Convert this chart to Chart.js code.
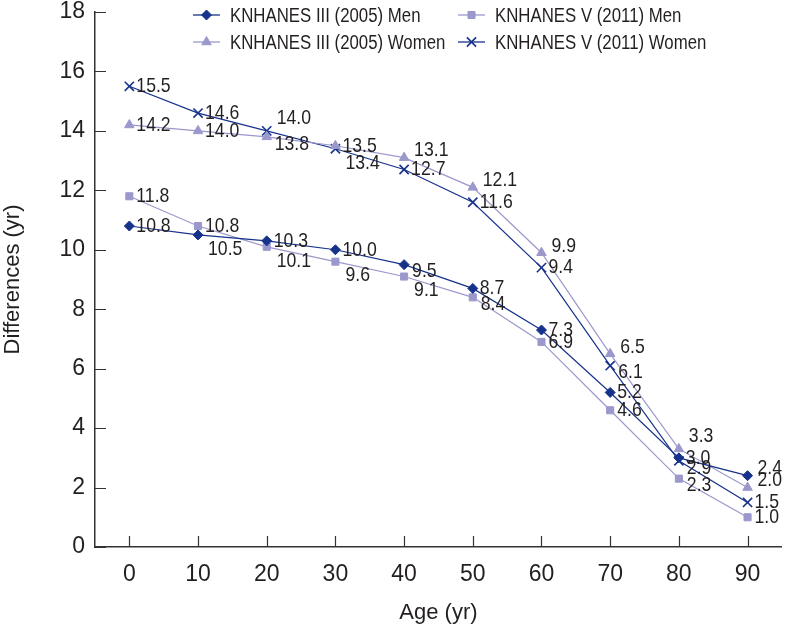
<!DOCTYPE html>
<html>
<head>
<meta charset="utf-8">
<script src="https://cdn.jsdelivr.net/npm/chart.js@4.4.1/dist/chart.umd.min.js"></script>
<style>
html,body{margin:0;padding:0;background:#fff;}
#wrap{width:790px;height:628px;}
</style>
</head>
<body>
<div id="wrap"><canvas id="c" width="790" height="628"></canvas></div>
<script>
const ages = ['0','10','20','30','40','50','60','70','80','90'];
const yTicks = [0,2,4,6,8,10,12,14,16,18];
const men2005   = [10.8,10.5,10.3,10.0,9.5,8.7,7.3,5.2,3.0,2.4];
const men2011   = [11.8,10.8,10.1,9.6,9.1,8.4,6.9,4.6,2.3,1.0];
const women2005 = [14.2,14.0,13.8,13.5,13.1,12.1,9.9,6.5,3.3,2.0];
const women2011 = [15.5,14.6,14.0,13.4,12.7,11.6,9.4,6.1,2.9,1.5];
const seriesNames = ['KNHANES III (2005) Men','KNHANES V (2011) Men','KNHANES III (2005) Women','KNHANES V (2011) Women'];

// label placement codes: r = right, u = upper right, d = lower right, ru/rd = slightly up/down
const men2005Place   = ['r','d','r','r','rd','r','r','r','r','ru'];
const men2011Place   = ['r','r','d','d','d','rd','r','r','rd','r'];
const women2005Place = ['r','r','rd','r','ru','ru','ru','ru','u','ru'];
const women2011Place = ['r','r','u','d','r','r','r','rd','rd','r'];

const NAVY = '#17328a';
const LAV = '#9b98cc';
const FONT = "'Liberation Sans Narrow','Arial Narrow','Liberation Sans',sans-serif";
const CONDENSE = 0.84;

const inwardTicks = {
  id:'inwardTicks',
  afterDatasetsDraw(chart){
    const ctx = chart.ctx, x = chart.scales.x, y = chart.scales.y;
    ctx.save();
    ctx.strokeStyle = '#333'; ctx.lineWidth = 1.2;
    ctx.beginPath();
    ages.forEach((a,i)=>{ const px = Math.round(x.getPixelForValue(i))+0.5; ctx.moveTo(px, y.bottom); ctx.lineTo(px, y.bottom-11); });
    yTicks.forEach(v=>{ const py = Math.round(y.getPixelForValue(v))+0.5; ctx.moveTo(x.left, py); ctx.lineTo(x.left+11, py); });
    ctx.stroke();
    ctx.restore();
  }
};

function condensedText(ctx, text, x, y){
  ctx.save();
  ctx.translate(x, y);
  ctx.scale(CONDENSE, 1);
  ctx.fillText(text, 0, 0);
  ctx.restore();
}

const pointLabels = {
  id:'pointLabels',
  afterDatasetsDraw(chart){
    const ctx = chart.ctx;
    ctx.save();
    ctx.font = "21px " + FONT;
    ctx.fillStyle = '#231f20';
    ctx.textBaseline = 'middle';
    ctx.textAlign = 'left';
    const offs = {r:[7,0], u:[10,-13], d:[10,14], ru:[10,-7], rd:[8,7]};
    chart.data.datasets.forEach((ds,di)=>{
      const meta = chart.getDatasetMeta(di);
      meta.data.forEach((pt,i)=>{
        const o = offs[ds.place[i]];
        condensedText(ctx, ds.data[i].toFixed(1), pt.x + o[0], pt.y + o[1]);
      });
    });
    ctx.restore();
  }
};

const customLegend = {
  id:'customLegend',
  afterDraw(chart){
    const ctx = chart.ctx;
    const order = [0,1,2,3];
    const pos = [[193,15],[458,15],[193,42],[458,42]];
    ctx.save();
    ctx.font = "20px " + FONT;
    ctx.textBaseline = 'middle';
    ctx.textAlign = 'left';
    order.forEach((di,k)=>{
      const ds = chart.data.datasets[di];
      const [lx,ly] = pos[k];
      ctx.strokeStyle = ds.borderColor; ctx.lineWidth = 1.3;
      ctx.beginPath(); ctx.moveTo(lx,ly); ctx.lineTo(lx+27,ly); ctx.stroke();
      ctx.fillStyle = ds.pointBackgroundColor; ctx.strokeStyle = ds.pointBorderColor; ctx.lineWidth = ds.pointBorderWidth;
      Chart.helpers.drawPoint(ctx, {pointStyle: ds.pointStyle, radius: ds.pointRadius, borderWidth: ds.pointBorderWidth, rotation:0}, lx+13.5, ly);
      ctx.fillStyle = '#231f20';
      condensedText(ctx, ds.label, lx+37, ly+1);
    });
    ctx.restore();
  }
};

function mk(label, data, place, color, style, radius, bw){
  return {label, data, place, borderColor: color, backgroundColor: color, borderWidth: 1.2,
    pointStyle: style, pointRadius: radius, pointHoverRadius: radius,
    pointBackgroundColor: color, pointBorderColor: color, pointBorderWidth: bw, tension: 0};
}

new Chart(document.getElementById('c'), {
  type:'line',
  data:{
    labels: ages,
    datasets:[
      mk(seriesNames[0], men2005, men2005Place, NAVY, 'rectRot', 5, 1),
      mk(seriesNames[1], men2011, men2011Place, LAV, 'rect', 5, 1),
      mk(seriesNames[2], women2005, women2005Place, LAV, 'triangle', 5.5, 1),
      mk(seriesNames[3], women2011, women2011Place, NAVY, 'crossRot', 6.5, 1.6)
    ]
  },
  options:{
    responsive:false, animation:false,
    layout:{padding:{top:12,right:7,left:0,bottom:0}},
    plugins:{legend:{display:false}, tooltip:{enabled:false}},
    scales:{
      x:{
        offset:true,
        grid:{display:false},
        border:{display:true,color:'#333',width:1.5},
        ticks:{color:'#231f20',font:{family:FONT,size:23},padding:6},
        title:{display:true,text:'Age (yr)',color:'#231f20',font:{family:FONT,size:22},padding:{top:4,bottom:2}},
        afterFit(s){ s.height = 81; }
      },
      y:{
        min:0,max:18,
        afterBuildTicks(s){ s.ticks = yTicks.map(v=>({value:v})); },
        grid:{display:false},
        border:{display:true,color:'#333',width:1.5},
        ticks:{color:'#231f20',font:{family:FONT,size:23,lineHeight:0.5},padding:2},
        title:{display:true,text:'Differences (yr)',color:'#231f20',font:{family:FONT,size:22},padding:{top:0,bottom:4}},
        afterFit(s){ s.width = 95; s.paddingTop = 0; }
      }
    }
  },
  plugins:[inwardTicks, pointLabels, customLegend]
});
</script>
</body>
</html>
